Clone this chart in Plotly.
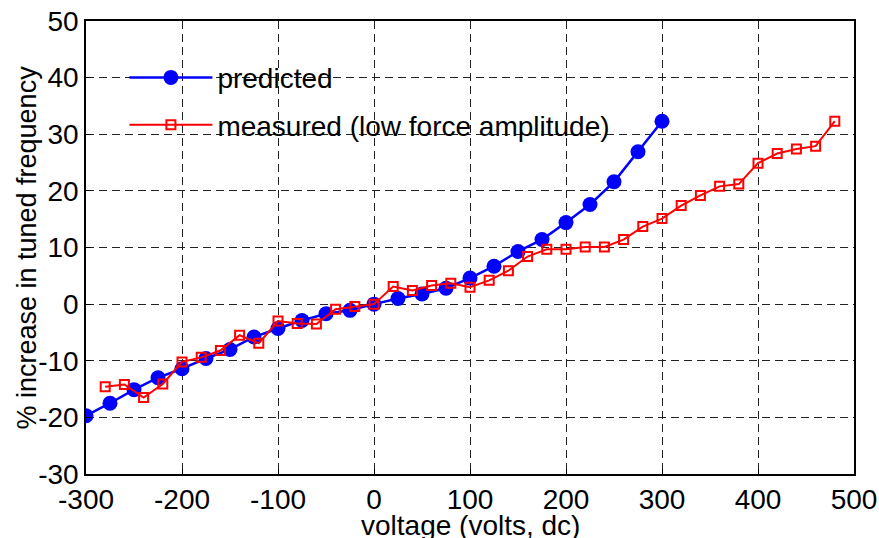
import plotly.graph_objects as go

# predicted series
pred_v = [-300, -275, -250, -225, -200, -175, -150, -125, -100, -75, -50, -25,
          0, 25, 50, 75, 100, 125, 150, 175, 200, 225, 250, 275, 300]
pred_pct = [-19.7, -17.5, -15.1, -13.0, -11.4, -9.6, -8.0, -5.8, -4.3, -2.9, -1.7, -1.1,
            0.0, 1.0, 1.8, 2.8, 4.6, 6.7, 9.3, 11.4, 14.4, 17.6, 21.6, 26.9, 32.3]

# measured series (low force amplitude)
meas_v = [-280, -260, -240, -220, -200, -180, -160, -140, -120, -100, -80, -60, -40, -20,
          0, 20, 40, 60, 80, 100, 120, 140, 160, 180, 200, 220, 240, 260, 280, 300,
          320, 340, 360, 380, 400, 420, 440, 460, 480]
meas_pct = [-14.6, -14.2, -16.5, -14.1, -10.2, -9.4, -8.2, -5.5, -6.9, -3.0, -3.4, -3.5, -0.9, -0.4,
            0.0, 3.1, 2.4, 3.3, 3.7, 3.0, 4.2, 5.9, 8.4, 9.7, 9.7, 10.1, 10.1, 11.4, 13.7, 15.1,
            17.4, 19.2, 20.8, 21.2, 24.9, 26.6, 27.4, 27.9, 32.3]

x_ticks = [-300, -200, -100, 0, 100, 200, 300, 400, 500]
y_ticks = [-30, -20, -10, 0, 10, 20, 30, 40, 50]

x_title = "voltage (volts, dc)"
y_title = "% increase in tuned frequency"

FONT = "Liberation Sans, Arial, sans-serif"

fig = go.Figure()
fig.add_trace(go.Scatter(
    x=pred_v, y=pred_pct, name="predicted", mode="lines+markers",
    line=dict(color="#0000FF", width=2.5),
    marker=dict(symbol="circle", size=15, color="#0000FF"),
    legendgroup="a",
))
fig.add_trace(go.Scatter(
    x=meas_v, y=meas_pct, name="measured (low force amplitude)", mode="lines+markers",
    line=dict(color="#FF0000", width=2),
    marker=dict(symbol="square-open", size=9, color="#FF0000", line=dict(width=2, color="#FF0000")),
    legendgroup="b",
))

axis_common = dict(
    showline=True, linecolor="black", linewidth=1.5, mirror=True,
    showgrid=True, gridcolor="#222222", griddash="8px,5px", gridwidth=1,
    zeroline=False, ticks="inside", ticklen=5, tickcolor="black",
    tickfont=dict(family=FONT, size=28, color="black"),
)

fig.update_layout(
    width=879, height=538,
    margin=dict(l=86, r=25, t=21, b=64),
    paper_bgcolor="white", plot_bgcolor="white",
    font=dict(family=FONT, size=28, color="black"),
    xaxis=dict(range=[-300, 500], tickvals=x_ticks, ticktext=[str(v) for v in x_ticks],
               automargin=False, **axis_common),
    yaxis=dict(range=[-30, 50], tickvals=y_ticks, ticktext=[str(v) for v in y_ticks],
               automargin=False, **axis_common),
    legend=dict(x=0.05, y=0.93, xanchor="left", yanchor="top",
                bgcolor="rgba(0,0,0,0)", borderwidth=0,
                font=dict(family=FONT, size=28, color="black"),
                traceorder="grouped", tracegroupgap=8, itemwidth=83),
    showlegend=True,
    annotations=[
        dict(text=y_title, textangle=-90, showarrow=False,
             xref="paper", yref="paper", x=-0.078, y=0.5,
             xanchor="center", yanchor="middle",
             font=dict(family=FONT, size=27, color="black")),
        dict(text=x_title, showarrow=False,
             xref="paper", yref="paper", x=0.5, y=-0.113,
             xanchor="center", yanchor="middle",
             font=dict(family=FONT, size=28, color="black")),
    ],
)

fig.write_html("out.html", config={"displayModeBar": False},
               post_script="document.body.style.margin='0';document.body.style.overflow='hidden';")
